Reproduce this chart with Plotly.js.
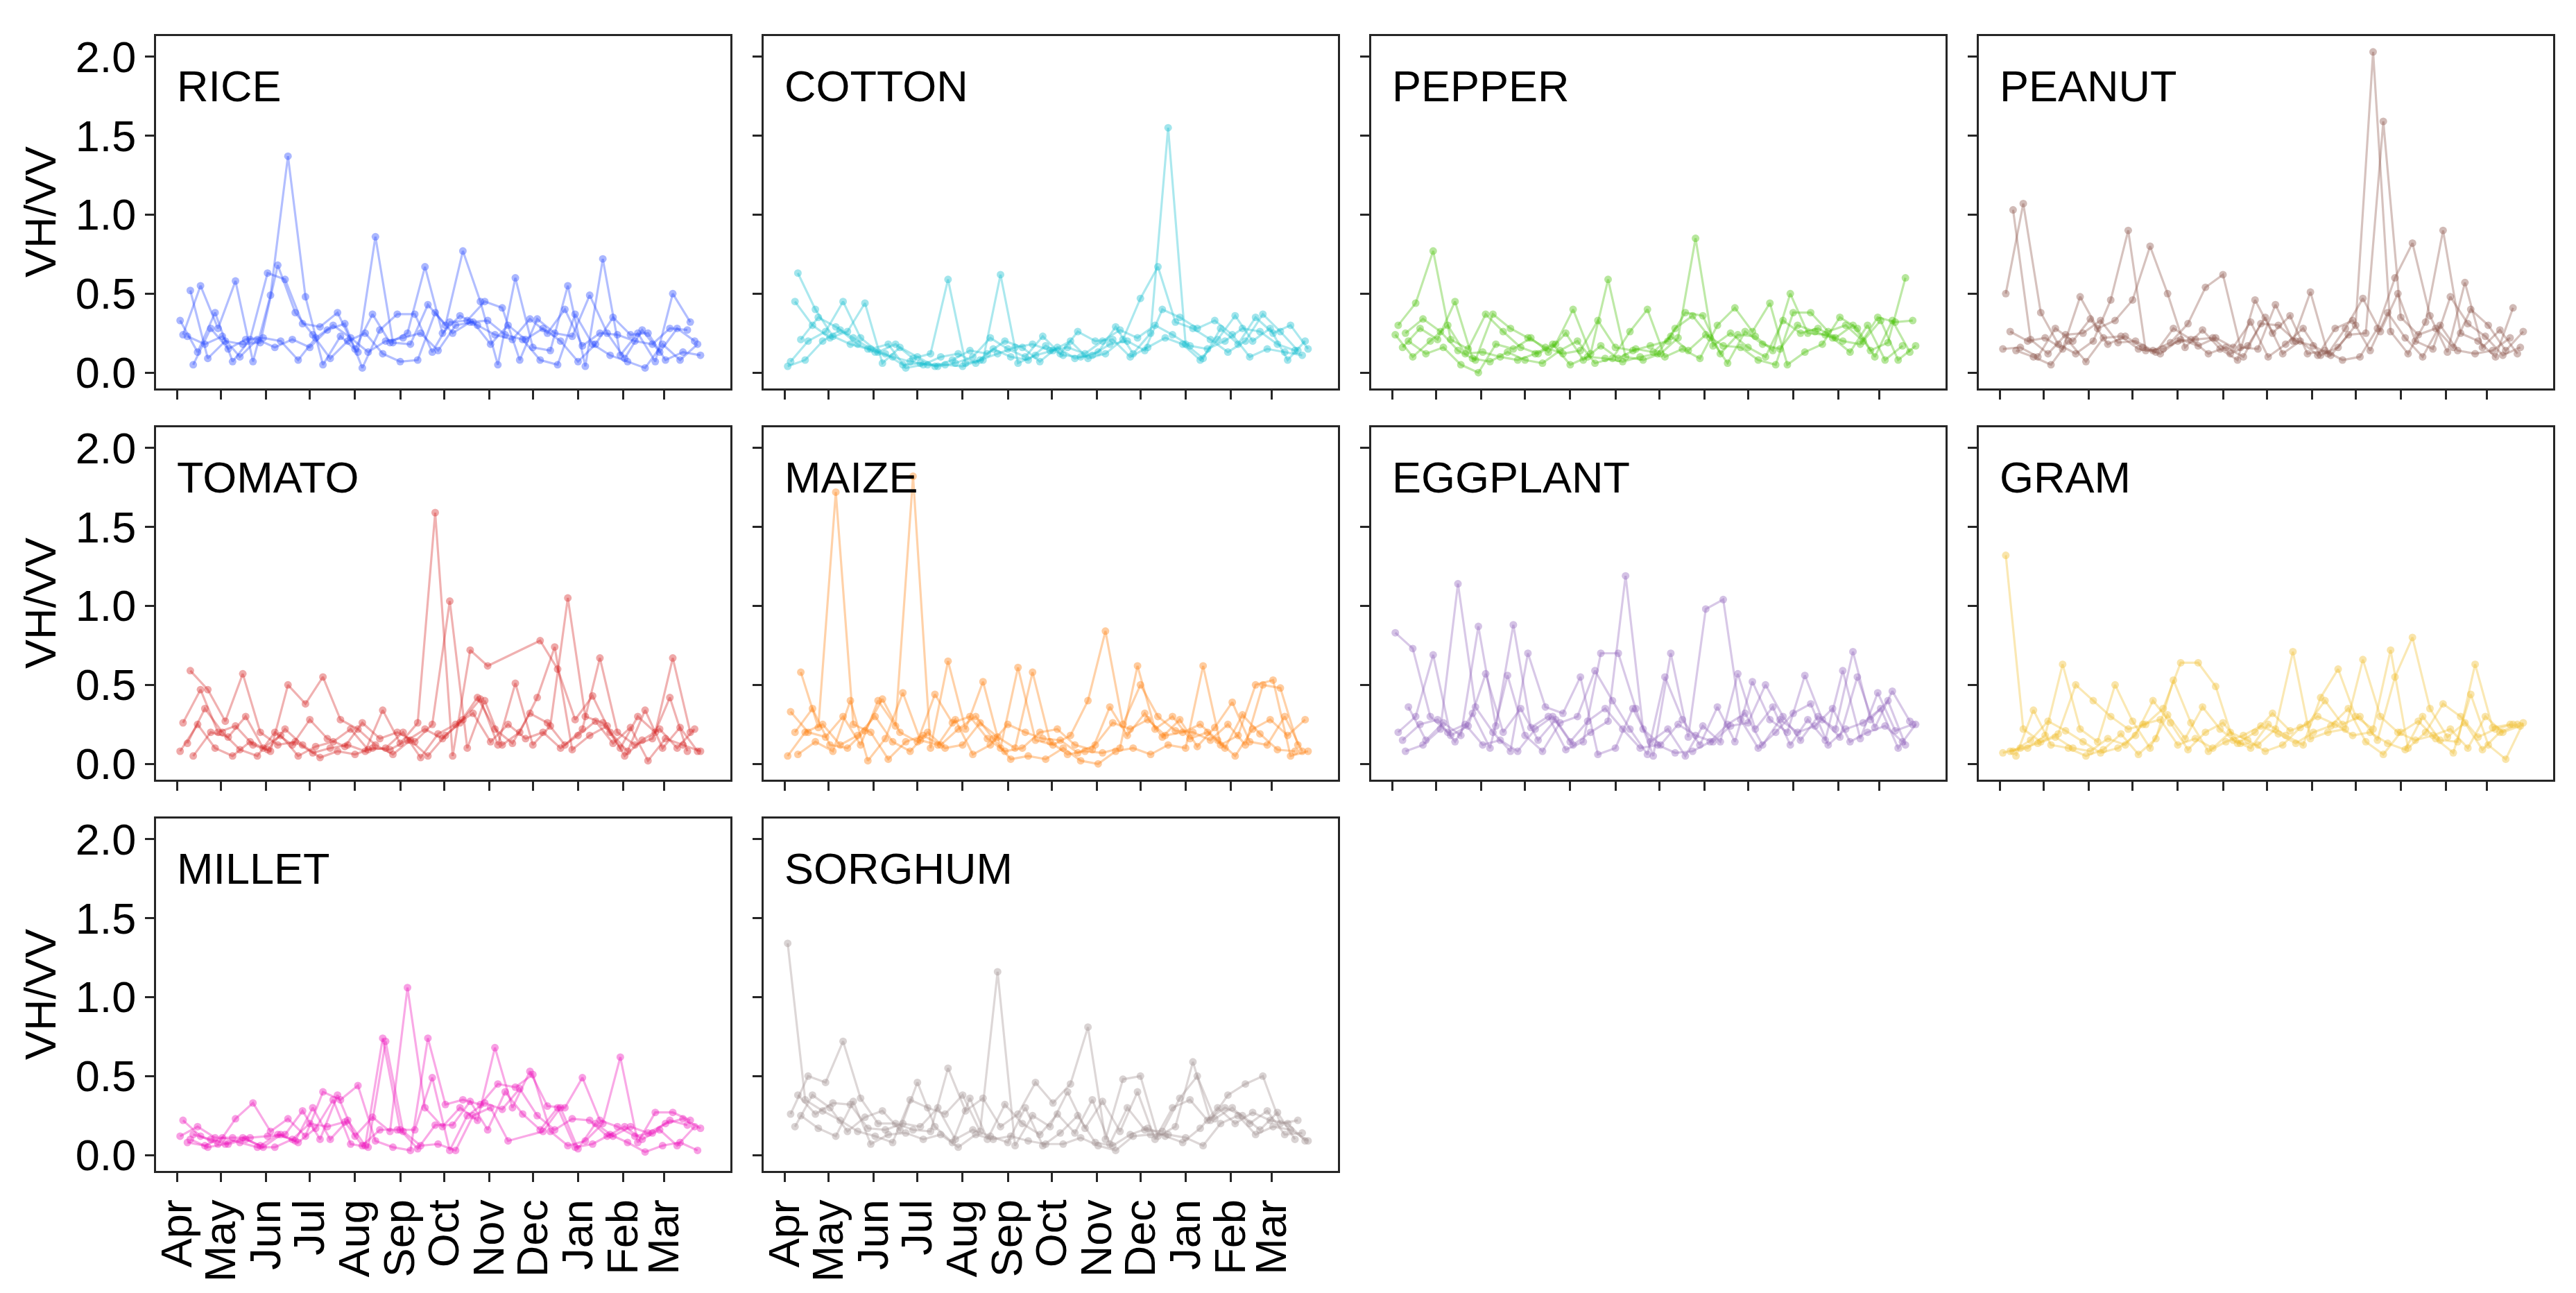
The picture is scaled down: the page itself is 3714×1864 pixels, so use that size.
<!DOCTYPE html>
<html>
<head>
<meta charset="utf-8">
<script src="https://cdn.plot.ly/plotly-3.0.1.min.js"></script>
<style>html,body{margin:0;padding:0;background:#fff;}</style>
</head>
<body>
<div id="chart" style="width:3714px;height:1864px;"></div>
<script>
// ---------- data ----------
const MONTH_TICKS = [0, 30, 61, 91, 122, 153, 183, 214, 244, 275, 306, 334];
const MONTH_LABELS = ['Apr', 'May', 'Jun', 'Jul', 'Aug', 'Sep', 'Oct', 'Nov', 'Dec', 'Jan', 'Feb', 'Mar'];
const Y_TICKS = [0, 0.5, 1, 1.5, 2];
const Y_LABELS = ['0.0', '0.5', '1.0', '1.5', '2.0'];
const CROPS = ['RICE', 'COTTON', 'PEPPER', 'PEANUT', 'TOMATO', 'MAIZE', 'EGGPLANT', 'GRAM', 'MILLET', 'SORGHUM'];
const COLORS = ['#2a4bff', '#17becf', '#4cc20a', '#8c564b', '#d62728', '#ff7f0e', '#9467bd', '#f0bf30', '#ee11bb', '#a09090'];

// acquisition days (days since 1 April) of the five fields shown per crop
const DAYS_A = [2,14,26,38,50,62,74,86,98,110,122,134,146,158,170,182,194,206,218,230,242,254,266,278,290,302,314,326,338,350];
const DAYS_B = [4,16,28,40,52,64,76,88,100,112,124,136,148,160,172,184,196,208,220,232,244,256,268,280,292,304,316,328,340,352];
const DAYS_C = [7,19,31,43,55,67,79,91,103,115,127,139,151,163,175,187,199,211,223,235,247,259,271,283,295,307,319,331,343,355];
const DAYS_D = [9,21,33,45,57,69,81,93,105,117,129,141,153,165,177,189,201,213,225,237,249,261,273,285,297,309,321,333,345,357];
const DAYS_E = [11,23,35,47,59,71,83,95,107,119,131,143,155,167,179,191,203,215,227,239,251,263,275,287,299,311,323,335,347,359];

const RICE = [
  [0.33,0.13,0.38,0.07,0.21,0.63,0.59,0.31,0.29,0.38,0.15,0.37,0.19,0.25,0.67,0.25,0.36,0.30,0.24,0.21,0.34,0.25,0.40,0.17,0.25,0.24,0.20,0.18,0.28,0.27],
  [0.24,0.55,0.28,0.58,0.07,0.49,1.37,0.48,0.05,0.23,0.13,0.86,0.19,0.18,0.43,0.30,0.77,0.45,0.05,0.60,0.16,0.14,0.55,0.04,0.72,0.11,0.25,0.07,0.50,0.32],
  [0.23,0.18,0.23,0.10,0.21,0.16,0.21,0.16,0.27,0.31,0.03,0.27,0.37,0.37,0.13,0.32,0.33,0.45,0.41,0.08,0.34,0.25,0.23,0.49,0.25,0.09,0.27,0.13,0.28,0.20],
  [0.52,0.09,0.20,0.18,0.19,0.68,0.38,0.24,0.09,0.20,0.25,0.12,0.07,0.08,0.38,0.25,0.32,0.33,0.24,0.21,0.08,0.05,0.37,0.18,0.11,0.07,0.03,0.18,0.08,0.18],
  [0.05,0.28,0.15,0.21,0.22,0.20,0.08,0.22,0.30,0.22,0.13,0.20,0.22,0.25,0.14,0.30,0.32,0.18,0.30,0.21,0.28,0.20,0.07,0.18,0.35,0.24,0.25,0.08,0.13,0.11]
];
const COTTON = [
  [0.04,0.08,0.20,0.27,0.18,0.13,0.10,0.07,0.05,0.05,0.04,0.08,0.12,0.16,0.18,0.14,0.16,0.12,0.20,0.27,0.22,0.30,0.24,0.17,0.15,0.20,0.28,0.26,0.18,0.14],
  [0.07,0.20,0.26,0.45,0.22,0.13,0.18,0.09,0.12,0.59,0.06,0.08,0.62,0.06,0.11,0.14,0.20,0.09,0.12,0.21,0.47,0.67,0.32,0.28,0.21,0.13,0.20,0.37,0.26,0.14],
  [0.45,0.30,0.22,0.26,0.44,0.06,0.16,0.10,0.04,0.08,0.14,0.12,0.20,0.16,0.07,0.16,0.09,0.11,0.18,0.20,0.14,0.40,0.35,0.28,0.33,0.24,0.10,0.15,0.13,0.11],
  [0.63,0.40,0.23,0.18,0.15,0.12,0.05,0.06,0.04,0.06,0.10,0.22,0.15,0.10,0.23,0.12,0.26,0.20,0.21,0.10,0.16,0.22,0.18,0.08,0.21,0.36,0.20,0.28,0.08,0.20],
  [0.21,0.35,0.29,0.22,0.15,0.18,0.03,0.05,0.10,0.12,0.06,0.15,0.10,0.08,0.17,0.11,0.10,0.13,0.29,0.12,0.25,1.55,0.18,0.09,0.28,0.18,0.35,0.25,0.30,0.15]
];
const PEPPER = [
  [0.24,0.10,0.20,0.30,0.12,0.13,0.10,0.08,0.12,0.18,0.05,0.10,0.09,0.07,0.10,0.12,0.28,0.36,0.22,0.06,0.26,0.18,0.15,0.30,0.26,0.22,0.13,0.30,0.08,0.17],
  [0.30,0.44,0.77,0.21,0.15,0.37,0.26,0.16,0.12,0.18,0.40,0.12,0.59,0.10,0.08,0.12,0.22,0.85,0.17,0.25,0.16,0.10,0.33,0.25,0.28,0.22,0.30,0.14,0.19,0.60],
  [0.16,0.28,0.21,0.45,0.09,0.07,0.13,0.08,0.06,0.14,0.20,0.06,0.09,0.26,0.40,0.10,0.15,0.09,0.30,0.41,0.26,0.44,0.05,0.13,0.18,0.35,0.28,0.10,0.33,0.13],
  [0.25,0.34,0.26,0.14,0.08,0.37,0.28,0.22,0.16,0.12,0.14,0.33,0.16,0.14,0.17,0.20,0.38,0.36,0.12,0.24,0.23,0.14,0.50,0.25,0.24,0.20,0.18,0.35,0.32,0.33],
  [0.20,0.12,0.16,0.05,0.00,0.18,0.15,0.22,0.13,0.25,0.08,0.17,0.09,0.15,0.13,0.23,0.14,0.24,0.17,0.16,0.08,0.05,0.38,0.38,0.26,0.30,0.20,0.33,0.08,0.17]
];
const PEANUT = [
  [0.15,0.16,0.10,0.28,0.20,0.34,0.18,0.23,0.16,0.12,0.20,0.21,0.22,0.12,0.17,0.35,0.12,0.20,0.11,0.28,0.33,0.14,0.38,0.22,0.10,0.30,0.14,0.12,0.14,0.22],
  [0.50,1.07,0.38,0.18,0.12,0.20,0.46,0.90,0.14,0.15,0.21,0.17,0.22,0.16,0.32,0.10,0.18,0.28,0.11,0.16,0.30,2.03,0.26,0.12,0.32,0.90,0.25,0.20,0.10,0.41],
  [0.26,0.20,0.22,0.15,0.48,0.28,0.33,0.46,0.80,0.50,0.16,0.27,0.15,0.08,0.46,0.25,0.36,0.12,0.14,0.08,0.10,0.28,0.60,0.82,0.36,0.13,0.57,0.16,0.27,0.12],
  [1.03,0.21,0.12,0.24,0.25,0.33,0.19,0.20,0.14,0.19,0.31,0.54,0.62,0.16,0.15,0.43,0.20,0.51,0.12,0.28,0.47,0.26,0.50,0.20,0.15,0.48,0.31,0.23,0.11,0.16],
  [0.14,0.10,0.05,0.20,0.07,0.22,0.23,0.15,0.13,0.28,0.21,0.12,0.16,0.10,0.31,0.30,0.20,0.17,0.11,0.24,0.25,1.59,0.35,0.24,0.28,0.16,0.40,0.30,0.14,0.26]
];
const TOMATO = [
  [0.08,0.25,0.10,0.05,0.14,0.09,0.22,0.12,0.04,0.08,0.06,0.10,0.09,0.15,0.22,0.16,0.26,0.42,0.22,0.13,0.32,0.26,0.12,0.22,0.67,0.20,0.12,0.16,0.42,0.08],
  [0.26,0.47,0.20,0.24,0.12,0.08,0.50,0.38,0.55,0.28,0.22,0.12,0.06,0.15,0.05,0.18,0.28,0.41,0.12,0.51,0.12,0.24,1.05,0.30,0.26,0.10,0.30,0.20,0.67,0.20],
  [0.13,0.35,0.20,0.09,0.05,0.20,0.12,0.28,0.16,0.11,0.26,0.16,0.20,0.14,0.25,1.03,0.10,0.40,0.12,0.20,0.42,0.74,0.09,0.18,0.24,0.05,0.15,0.22,0.10,0.22],
  [0.59,0.47,0.27,0.57,0.20,0.12,0.14,0.07,0.10,0.12,0.08,0.34,0.13,0.26,1.59,0.05,0.72,0.62,null,null,0.78,0.60,0.28,0.43,0.20,0.08,0.34,0.10,0.23,0.08],
  [0.05,0.20,0.17,0.30,0.10,0.18,0.05,0.11,0.14,0.22,0.09,0.10,0.20,0.04,0.19,0.25,0.32,0.14,0.25,0.16,0.20,0.10,0.18,0.27,0.13,0.23,0.02,0.16,0.12,0.08]
];
const MAIZE = [
  [0.05,0.20,0.25,0.12,0.18,0.30,0.14,0.08,0.20,0.10,0.12,0.26,0.17,0.10,0.58,0.14,0.06,0.08,0.07,0.10,0.62,0.22,0.30,0.16,0.20,0.10,0.31,0.19,0.09,0.08],
  [0.33,0.20,0.17,0.30,0.12,0.40,0.24,1.82,0.10,0.65,0.22,0.52,0.10,0.61,0.15,0.12,0.18,0.40,0.84,0.25,0.50,0.30,0.21,0.20,0.15,0.25,0.12,0.50,0.48,0.12],
  [0.20,0.35,0.12,0.10,0.21,0.41,0.20,0.14,0.44,0.26,0.30,0.16,0.08,0.10,0.20,0.22,0.12,0.09,0.36,0.18,0.32,0.17,0.28,0.11,0.23,0.39,0.14,0.12,0.30,0.08],
  [0.06,0.14,0.08,0.40,0.02,0.16,0.45,0.15,0.12,0.28,0.06,0.12,0.25,0.20,0.16,0.15,0.07,0.12,0.26,0.22,0.28,0.18,0.20,0.25,0.15,0.05,0.22,0.28,0.18,0.28],
  [0.58,0.23,1.72,0.25,0.20,0.03,0.14,0.18,0.12,0.22,0.30,0.16,0.03,0.05,0.03,0.10,0.02,0.00,0.08,0.10,0.06,0.12,0.10,0.62,0.12,0.18,0.50,0.53,0.05,0.08]
];
const EGGPLANT = [
  [0.83,0.73,0.30,0.20,0.25,0.12,0.15,0.08,0.22,0.30,0.14,0.27,0.35,0.22,0.10,0.12,0.07,0.08,0.14,0.25,0.32,0.12,0.28,0.20,0.24,0.35,0.14,0.20,0.24,0.14],
  [0.20,0.30,0.69,0.18,0.24,0.57,0.20,0.35,0.15,0.28,0.12,0.20,0.27,1.19,0.22,0.12,0.25,0.18,0.14,0.24,0.26,0.50,0.30,0.15,0.30,0.22,0.71,0.28,0.40,0.12],
  [0.15,0.25,0.28,0.14,0.32,0.10,0.56,0.18,0.08,0.26,0.30,0.59,0.40,0.22,0.06,0.55,0.28,0.12,0.36,0.14,0.52,0.28,0.20,0.56,0.28,0.17,0.55,0.23,0.46,0.27],
  [0.08,0.12,0.22,1.14,0.36,0.20,0.08,0.70,0.36,0.32,0.55,0.06,0.10,0.35,0.14,0.22,0.05,0.24,0.14,0.57,0.22,0.36,0.12,0.28,0.15,0.59,0.16,0.45,0.21,0.25],
  [0.36,0.15,0.26,0.18,0.87,0.24,0.88,0.23,0.30,0.09,0.14,0.70,0.70,0.35,0.05,0.70,0.17,0.98,1.04,0.28,0.10,0.20,0.32,0.38,0.12,0.22,0.26,0.35,0.10,0.25]
];
const GRAM = [
  [0.07,0.10,0.13,0.17,0.10,0.08,0.16,0.12,0.25,0.28,0.12,0.16,0.10,0.20,0.15,0.08,0.12,0.23,0.30,0.25,0.18,0.20,0.13,0.09,0.30,0.15,0.14,0.63,0.23,0.25],
  [1.32,0.22,0.14,0.19,0.50,0.40,0.30,0.22,0.25,0.35,0.64,0.64,0.49,0.15,0.10,0.25,0.18,0.12,0.42,0.60,0.30,0.22,0.72,0.10,0.20,0.38,0.30,0.17,0.22,0.25],
  [0.08,0.10,0.18,0.63,0.22,0.14,0.50,0.27,0.10,0.31,0.16,0.36,0.22,0.13,0.20,0.32,0.21,0.25,0.40,0.25,0.30,0.15,0.55,0.80,0.35,0.17,0.26,0.09,0.20,0.25],
  [0.08,0.15,0.27,0.21,0.14,0.07,0.10,0.18,0.40,0.26,0.09,0.20,0.26,0.13,0.12,0.22,0.71,0.16,0.20,0.22,0.66,0.30,0.20,0.15,0.18,0.22,0.10,0.30,0.20,0.24],
  [0.05,0.34,0.12,0.10,0.05,0.09,0.19,0.06,0.16,0.53,0.26,0.08,0.14,0.18,0.24,0.19,0.13,0.20,0.24,0.35,0.14,0.06,0.20,0.27,0.16,0.07,0.44,0.12,0.03,0.26]
];
const MILLET = [
  [0.12,0.18,0.11,0.11,0.11,0.12,0.13,0.28,0.10,0.38,0.12,0.24,0.15,1.06,0.30,0.18,0.30,0.22,0.68,0.30,0.53,0.31,0.30,0.49,0.22,0.18,0.12,0.14,0.22,0.19],
  [0.22,0.12,0.07,0.23,0.33,0.15,0.23,0.12,0.40,0.35,0.44,0.09,0.05,0.03,0.74,0.32,0.35,0.32,0.45,0.43,0.51,0.15,0.06,0.09,0.20,0.62,0.08,0.27,0.27,0.22],
  [0.08,0.06,0.11,0.08,0.05,0.05,0.10,0.20,0.18,0.21,0.06,0.16,0.16,0.16,0.49,0.03,0.25,0.33,0.29,0.42,0.25,0.16,0.23,0.22,0.12,0.18,0.10,0.16,0.06,0.18],
  [0.10,0.05,0.07,0.11,0.06,0.13,0.09,0.30,0.10,0.22,0.06,0.74,0.16,0.04,0.19,0.19,0.34,0.16,0.40,0.26,0.16,0.30,0.05,0.07,0.13,0.08,0.02,0.06,0.08,0.03],
  [0.13,0.10,0.07,0.10,0.05,0.13,0.08,0.17,0.35,0.07,0.05,0.72,0.15,0.06,0.07,0.03,0.25,0.30,0.09,null,0.15,0.30,0.04,0.20,0.12,0.18,0.14,0.20,0.23,0.17]
];
const SORGHUM = [
  [1.34,0.35,0.28,0.22,0.15,0.12,0.08,0.35,0.30,0.26,0.38,0.15,1.16,0.06,0.25,0.18,0.40,0.17,0.34,0.15,0.40,0.10,0.30,0.35,0.22,0.30,0.25,0.16,0.27,0.10],
  [0.26,0.50,0.46,0.72,0.36,0.20,0.20,0.16,0.15,0.55,0.28,0.36,0.18,0.26,0.46,0.33,0.45,0.81,0.10,0.48,0.50,0.12,0.18,0.59,0.22,0.38,0.45,0.50,0.20,0.22],
  [0.18,0.38,0.30,0.15,0.24,0.28,0.16,0.46,0.18,0.08,0.36,0.10,0.32,0.20,0.13,0.26,0.14,0.35,0.07,0.30,0.16,0.15,0.36,0.50,0.23,0.30,0.20,0.28,0.13,0.14],
  [0.38,0.26,0.33,0.32,0.17,0.16,0.20,0.18,0.30,0.10,0.16,0.12,0.08,0.30,0.06,0.14,0.25,0.08,0.06,0.13,0.17,0.12,0.08,0.17,0.30,0.20,0.27,0.22,0.20,0.09],
  [0.25,0.17,0.12,0.34,0.07,0.13,0.14,0.10,0.13,0.05,0.13,0.10,0.12,0.09,0.07,0.07,0.11,0.06,0.03,0.12,0.13,0.13,0.11,0.06,0.20,0.25,0.13,0.18,0.16,0.09]
];

// ---------- drawing ----------
const SERIES = [RICE, COTTON, PEPPER, PEANUT, TOMATO, MAIZE, EGGPLANT, GRAM, MILLET, SORGHUM];
const DAYS = [DAYS_A, DAYS_B, DAYS_C, DAYS_D, DAYS_E];

const W = 3714, H = 1864;
const COLS = [[225, 1053], [1101, 1929], [1977, 2805], [2853, 3681]];
const ROWS = [[52, 560], [616, 1124], [1180, 1688]];
const FONT = '"Liberation Sans", Arial, Helvetica, sans-serif';
const FS = 63;
const AXC = '#262626';

function rgba(hex, a) {
  const v = parseInt(hex.slice(1), 16);
  return 'rgba(' + ((v >> 16) & 255) + ',' + ((v >> 8) & 255) + ',' + (v & 255) + ',' + a + ')';
}

const traces = [];
const layout = {
  width: W, height: H,
  margin: {l: 0, r: 0, t: 0, b: 0},
  paper_bgcolor: '#ffffff', plot_bgcolor: '#ffffff',
  showlegend: false,
  font: {family: FONT, size: FS, color: '#000000'},
  annotations: []
};

CROPS.forEach((crop, i) => {
  const r = Math.floor(i / 4), c = i % 4, n = i + 1;
  const sx = n > 1 ? String(n) : '';
  SERIES[i].forEach((vals, j) => {
    traces.push({
      type: 'scatter', mode: 'lines+markers',
      x: DAYS[j], y: vals,
      xaxis: 'x' + sx, yaxis: 'y' + sx,
      connectgaps: true,
      line: {color: rgba(COLORS[i], 0.36), width: 3.2},
      marker: {color: rgba(COLORS[i], 0.4), size: 11, line: {width: 0}},
      hoverinfo: 'skip'
    });
  });
  layout['xaxis' + sx] = {
    domain: [COLS[c][0] / W, COLS[c][1] / W], anchor: 'y' + sx,
    range: [-14.5, 379.5], tickmode: 'array', tickvals: MONTH_TICKS, ticktext: MONTH_LABELS,
    showticklabels: i >= 8, tickangle: -90, tickfont: {family: FONT, size: FS, color: '#000'},
    ticks: 'outside', ticklen: 13, tickwidth: 3, tickcolor: AXC,
    showline: true, mirror: true, linecolor: AXC, linewidth: 3,
    showgrid: false, zeroline: false, fixedrange: true
  };
  layout['yaxis' + sx] = {
    domain: [1 - ROWS[r][1] / H, 1 - ROWS[r][0] / H], anchor: 'x' + sx,
    range: [-0.1, 2.13], tickmode: 'array', tickvals: Y_TICKS, ticktext: Y_LABELS,
    showticklabels: c === 0, tickfont: {family: FONT, size: FS, color: '#000'},
    ticks: 'outside', ticklen: 13, tickwidth: 3, tickcolor: AXC,
    showline: true, mirror: true, linecolor: AXC, linewidth: 3,
    showgrid: false, zeroline: false, fixedrange: true
  };
  layout.annotations.push({
    xref: 'paper', yref: 'paper',
    x: (COLS[c][0] + 28) / W, y: 1 - (ROWS[r][0] + 72) / H,
    xanchor: 'left', yanchor: 'middle', showarrow: false,
    text: crop, font: {family: FONT, size: FS, color: '#000'}
  });
});

ROWS.forEach(row => {
  layout.annotations.push({
    xref: 'paper', yref: 'paper',
    x: 58 / W, y: 1 - (row[0] + row[1]) / 2 / H,
    xanchor: 'center', yanchor: 'middle', textangle: -90, showarrow: false,
    text: 'VH/VV', font: {family: FONT, size: FS, color: '#000'}
  });
});

Plotly.newPlot('chart', traces, layout, {displayModeBar: false, staticPlot: true});
</script>
</body>
</html>
